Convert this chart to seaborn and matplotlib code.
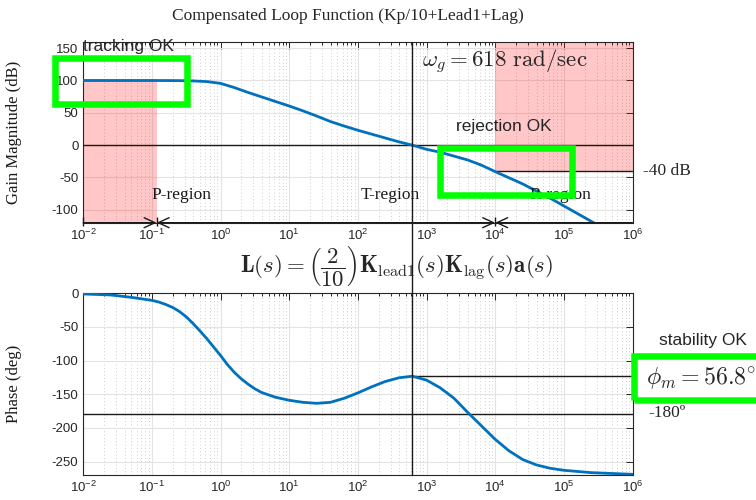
import numpy as np
import pandas as pd
import matplotlib
matplotlib.use("Agg")
import matplotlib.pyplot as plt
import seaborn as sns
from matplotlib.patches import Rectangle, ArrowStyle
from matplotlib.ticker import LogLocator

# ---- loop frequency response (rad/sec, dB, deg) ----
freq_gain = [0.01, 0.0316, 0.1, 0.251, 0.398, 0.631, 1.0, 1.585, 2.512, 3.981,
             6.31, 10.0, 15.85, 25.12, 39.81, 63.1, 100.0, 158.5, 251.2, 398.1,
             618.0, 1000.0, 1585.0, 2512.0, 3981.0, 6310.0, 1.0e4, 1.585e4,
             2.512e4, 3.981e4, 6.31e4, 1.0e5, 1.585e5, 2.512e5, 3.162e5]
gain_db = [100.0, 100.0, 100.0, 99.8, 99.3, 98.3, 95.5, 89.0, 81.5, 74.5,
           67.5, 60.5, 53.0, 45.0, 36.5, 29.5, 23.0, 17.0, 11.0, 5.0,
           0.0, -6.5, -11.0, -17.0, -23.0, -31.0, -41.0, -50.5,
           -60.0, -71.0, -82.0, -94.0, -106.0, -118.0, -124.0]

freq_phase = [0.01, 0.0251, 0.0501, 0.1, 0.126, 0.158, 0.2, 0.251, 0.316, 0.398,
              0.501, 0.631, 0.794, 1.0, 1.259, 1.585, 1.995, 2.512, 3.162, 3.981,
              6.31, 10.0, 15.85, 25.12, 39.81, 63.1, 100.0, 158.5, 251.2, 398.1,
              618.0, 1000.0, 1585.0, 2512.0, 3981.0, 6310.0, 1.0e4, 1.585e4,
              2.512e4, 3.981e4, 6.31e4, 1.0e5, 2.512e5, 1.0e6]
phase_deg = [-1.0, -2.5, -6.0, -10.5, -13.0, -16.5, -21.0, -27.0, -35.0, -45.0,
             -56.0, -67.5, -80.0, -92.5, -106.0, -117.5, -127.0, -135.0, -142.0, -147.5,
             -154.5, -159.0, -162.0, -163.5, -162.0, -156.0, -148.0, -139.0, -131.0, -125.5,
             -123.2, -129.0, -140.5, -156.0, -177.0, -197.0, -217.0, -234.0,
             -247.0, -255.0, -260.0, -263.0, -266.5, -269.0]

# ---- specification values ----
omega_g = 618.0            # crossover frequency, rad/sec
phase_margin = 56.8        # deg
tracking_db = 100.0
rejection_db = -40.0
region_edges = [0.01, 0.117, 1.0e4, 1.0e6]   # P | T | R
region_names = ["P-region", "T-region", "R-region"]
region_label_freq = [0.27, 300.0, 9.0e4]

gain_ylim = (-120, 160)
phase_ylim = (-270, 0)

curve_color = "#0072BD"
spec_fill = "#ff0000"
box_green = "#00ff00"
ink = "#262626"

sns.set_theme(style="white")
plt.rcParams["font.family"] = ["Liberation Sans", "DejaVu Sans"]
plt.rcParams["mathtext.fontset"] = "cm"
plt.rcParams["axes.unicode_minus"] = False
SERIF = ["Liberation Serif", "DejaVu Serif"]

W, H = 756, 500
fig = plt.figure(figsize=(W / 100, H / 100), dpi=100)


def fpos(x, y):
    """pixel position -> figure fraction"""
    return x / W, 1 - y / H


ax1 = fig.add_axes([83.3 / W, 1 - 222.7 / H, 549.2 / W, 181.0 / H])
ax2 = fig.add_axes([83.3 / W, 1 - 475.0 / H, 549.2 / W, 181.7 / H])

for ax in (ax1, ax2):
    ax.set_xscale("log")

sns.lineplot(data=pd.DataFrame({"w": freq_gain, "g": gain_db}), x="w", y="g",
             ax=ax1, color=curve_color, lw=2.0, zorder=6)
sns.lineplot(data=pd.DataFrame({"w": freq_phase, "p": phase_deg}), x="w", y="p",
             ax=ax2, color=curve_color, lw=2.0, zorder=6)


def style(ax, ylim, yticks):
    ax.set_xlim(region_edges[0], region_edges[-1])
    ax.set_ylim(*ylim)
    ax.set_yticks(yticks)
    ax.xaxis.set_major_locator(LogLocator(base=10, numticks=20))
    ax.xaxis.set_minor_locator(LogLocator(base=10, subs=np.arange(2, 10), numticks=200))
    ax.tick_params(which="both", direction="in", top=True, right=True,
                   colors=ink, labelsize=9.5, width=0.7)
    ax.tick_params(which="major", length=5)
    ax.tick_params(which="minor", length=2.5)
    ax.set_axisbelow(True)
    ax.grid(which="major", color="#e3e3e3", lw=0.8)
    ax.grid(which="minor", axis="x", color="#bdbdbd", ls=(0, (1, 3)), lw=0.6)
    for s in ax.spines.values():
        s.set_color(ink)
        s.set_linewidth(0.8)
    ax.set_xlabel("")


style(ax1, gain_ylim, [-100, -50, 0, 50, 100, 150])
style(ax2, phase_ylim, [-250, -200, -150, -100, -50, 0])

ax1.set_ylabel("Gain Magnitude (dB)", family=SERIF, fontsize=12, color="k")
ax2.set_ylabel("Phase (deg)", family=SERIF, fontsize=12, color="k")
ax1.yaxis.set_label_coords((22 - 83.3) / 549.2, 0.5)
ax2.yaxis.set_label_coords((22 - 83.3) / 549.2, 0.5)

# ---- gain plot: specification regions ----
ax1.fill_between(region_edges[:2], gain_ylim[0], tracking_db, color=spec_fill,
                 alpha=0.22, lw=0, zorder=1)
ax1.fill_between(region_edges[2:], rejection_db, gain_ylim[1], color=spec_fill,
                 alpha=0.22, lw=0, zorder=1)
ax1.hlines(tracking_db, region_edges[0], region_edges[1], color="k", lw=1.0, zorder=4)
ax1.axhline(0, color="k", lw=1.0, zorder=4)
ax1.hlines(rejection_db, region_edges[2], region_edges[3], color="k", lw=1.0, zorder=4)

# region arrows along the bottom edge
arrow_kinds = ["->", "<->", "<-"]
for a, b, kind in zip(region_edges[:-1], region_edges[1:], arrow_kinds):
    ax1.annotate("", xy=(b, gain_ylim[0]), xytext=(a, gain_ylim[0]),
                 arrowprops=dict(arrowstyle=ArrowStyle(kind, head_length=0.65, head_width=0.3),
                                 color="k", lw=1.0, shrinkA=0, shrinkB=0),
                 annotation_clip=False, zorder=7)
ax1.vlines(region_edges[:3], gain_ylim[0] - 5, gain_ylim[0] + 9, color="k", lw=1.0,
           clip_on=False, zorder=7)

for name, xf in zip(region_names, region_label_freq):
    ax1.text(xf, -77, name, ha="center", va="center", family=SERIF, fontsize=12.5,
             color="k", zorder=8)

# ---- phase plot ----
ax2.axhline(-180, color="k", lw=1.0, zorder=4)
ax2.hlines(-180 + phase_margin, omega_g, region_edges[-1], color="k", lw=1.0, zorder=4)

# crossover marker spanning both plots
top1 = ax1.get_position().y1
p2 = ax2.get_position()
ax2.axvline(omega_g, ymin=0, ymax=(top1 - p2.y0) / p2.height, color="k", lw=1.0,
            clip_on=False, zorder=9)

# ---- labels ----
fig.text(*fpos(348, 16), "Compensated Loop Function (Kp/10+Lead1+Lag)",
         ha="center", va="center", family=SERIF, fontsize=12.5)
fig.text(*fpos(83, 47), "tracking OK", ha="left", va="center", fontsize=12.5)
fig.text(*fpos(504, 127), "rejection OK", ha="center", va="center", fontsize=12.5)
fig.text(*fpos(703, 341), "stability OK", ha="center", va="center", fontsize=12.5)
fig.text(*fpos(505, 62), r"$\omega_g = %d\ \mathrm{rad/sec}$" % omega_g,
         ha="center", va="center", fontsize=16.5)
fig.text(*fpos(643, 171), "%d dB" % rejection_db, ha="left", va="center",
         family=SERIF, fontsize=12.5)
fig.text(*fpos(648, 413), "-180º", ha="left", va="center", family=SERIF, fontsize=12.5)
fig.text(*fpos(646, 378), r"$\phi_m = %.1f^{\circ}$" % phase_margin, ha="left",
         va="center", fontsize=17.2)
fig.text(*fpos(397, 267),
         r"$\mathbf{L}(s) = \left(\dfrac{2}{10}\right)\mathbf{K}_{\mathrm{lead1}}(s)"
         r"\mathbf{K}_{\mathrm{lag}}(s)\mathbf{a}(s)$",
         ha="center", va="center", fontsize=16.5)

# highlight boxes
for (x0, y0, x1, y1) in [(55, 58.3, 187.3, 104), (439.7, 148.3, 571.7, 194.7),
                         (633.7, 355.7, 800, 400.3)]:
    fig.patches.append(Rectangle(fpos(x0, y1), (x1 - x0) / W, (y1 - y0) / H,
                                 transform=fig.transFigure, fill=False,
                                 edgecolor=box_green, lw=4.7, zorder=20))

fig.savefig("out.png", dpi=100)
